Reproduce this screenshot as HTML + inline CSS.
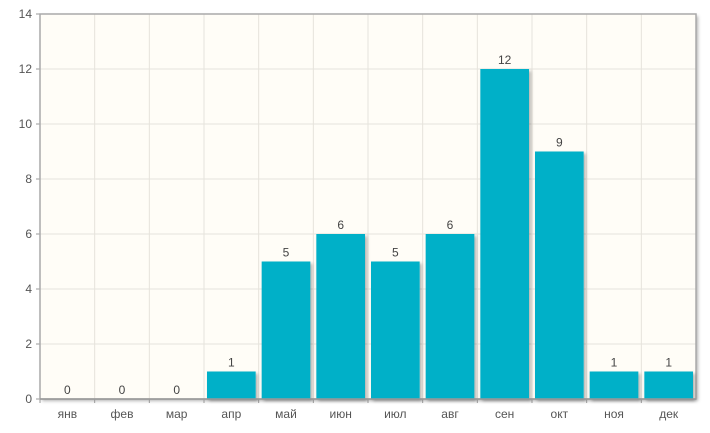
<!DOCTYPE html>
<html><head><meta charset="utf-8"><style>
body{margin:0;background:#fff;}
svg{font-family:"Liberation Sans","DejaVu Sans",sans-serif;}
</style></head><body>
<svg id="c" width="710" height="428">
<defs><filter id="sh" x="-10%" y="-10%" width="130%" height="130%"><feDropShadow dx="2" dy="2" stdDeviation="1.5" flood-color="#000" flood-opacity="0.3"/></filter></defs>
</svg>
<script>
const categories=["янв","фев","мар","апр","май","июн","июл","авг","сен","окт","ноя","дек"];
const values=[0,0,0,1,5,6,5,6,12,9,1,1];
const yTicks=[0,2,4,6,8,10,12,14];
const L=40,R=696,T=14,B=399,yMax=14;
const svg=document.getElementById('c');
const NS='http://www.w3.org/2000/svg';
const cw=(R-L)/categories.length;
const y=v=>B-(v/yMax)*(B-T);
const x=i=>L+i*cw;
function mk(t,a,p){const e=document.createElementNS(NS,t);for(const k in a)e.setAttribute(k,a[k]);(p||svg).appendChild(e);return e;}
const bg=mk('rect',{x:L,y:T,width:R-L,height:B-T,fill:'#fffdf7',filter:'url(#sh)'});


yTicks.forEach(t=>{
 const g=mk('line',{x1:L,x2:R,y1:y(t),y2:y(t),stroke:'#e6e3dc','stroke-width':1});
 
 
 const tk=mk('line',{x1:L-4,x2:L,y1:y(t),y2:y(t),stroke:'#999'});
 
 
 const tx=mk('text',{x:L-8,y:y(t)+4,'text-anchor':'end','font-size':12,fill:'#555'});
 tx.textContent=t;
 
 
});
categories.forEach((c,i)=>{
 if(i>0){const g=mk('line',{x1:x(i),x2:x(i),y1:T,y2:B,stroke:'#e6e3dc'});
 
 }
 const tk=mk('line',{x1:x(i),x2:x(i),y1:B,y2:B+4,stroke:'#999'});
 
 
 const tx=mk('text',{x:x(i)+cw/2,y:B+19,'text-anchor':'middle','font-size':12,fill:'#555'});
 tx.textContent=c;
 
 
});
const frame=mk('rect',{x:L,y:T,width:R-L,height:B-T,fill:'none',stroke:'#aaa','stroke-width':1.5});


values.forEach((v,i)=>{
 const bx=x(i)+3,bw=cw-6;
 if(v>0){const r=mk('rect',{x:bx,y:y(v),width:bw,height:B-y(v),fill:'#00b0c8',filter:'url(#sh)'});
 
 }
 const t=mk('text',{x:bx+bw/2,y:y(v)-5,'text-anchor':'middle','font-size':12,fill:'#444'});
 t.textContent=v;
 
 
});
const ax=mk('line',{x1:L,x2:R,y1:B,y2:B,stroke:'#999','stroke-width':1.5});


</script>
</body></html>
